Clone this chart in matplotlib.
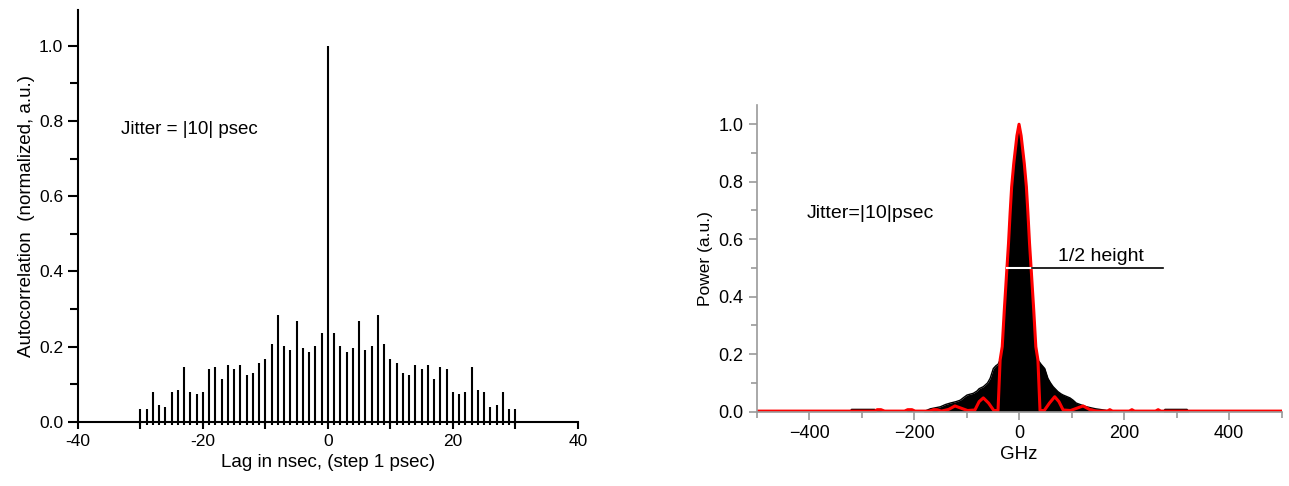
"""
plot.py - autocorrelacion del jitter (izq) y espectro de potencia (der)
"""

import numpy as np
import matplotlib.pyplot as plt
from matplotlib.ticker import MultipleLocator

plt.rcParams["font.family"] = ["Liberation Sans", "DejaVu Sans"]

# ----------------------------------------------------------------------
# Datos panel izquierdo: autocorrelacion por lag (-30 .. 30)
# ----------------------------------------------------------------------
lags = list(range(-30, 31))
autocorr = [0.035, 0.035, 0.079, 0.045, 0.040, 0.079, 0.085, 0.146, 0.079, 0.074,
            0.079, 0.140, 0.146, 0.114, 0.152, 0.140, 0.152, 0.124, 0.130, 0.157,
            0.168, 0.207, 0.285, 0.202, 0.190, 0.268, 0.196, 0.185, 0.202, 0.235,
            1.000,
            0.235, 0.202, 0.185, 0.196, 0.268, 0.190, 0.202, 0.285, 0.207, 0.168,
            0.157, 0.130, 0.124, 0.152, 0.140, 0.152, 0.114, 0.146, 0.140, 0.079,
            0.074, 0.079, 0.146, 0.085, 0.079, 0.040, 0.045, 0.079, 0.035, 0.035]

# ----------------------------------------------------------------------
# Datos panel derecho: espectro medido (negro) y ajuste (rojo)
# ----------------------------------------------------------------------
espectro_ghz = [-500, -322, -319, -275, -272, -182, -169, -150, -140, -131, -120,
                -112, -105, -99, -87, -80, -76, -68, -60, -55, -49, -44, -40, -36,
                -32, -28, -23, -20, -17, -14, -10, -4, 0, 4, 10, 14, 17, 20, 23,
                28, 32, 36, 42, 49, 55, 60, 65, 74, 80, 84, 97, 103, 109, 118, 127,
                136, 146, 165, 178, 275, 278, 320, 323, 500]
espectro_pot = [0.0, 0.0, 0.008, 0.008, 0.0, 0.0, 0.010, 0.017, 0.025, 0.030, 0.035,
                0.040, 0.050, 0.058, 0.064, 0.072, 0.080, 0.087, 0.100, 0.116, 0.150,
                0.160, 0.165, 0.180, 0.226, 0.354, 0.500, 0.586, 0.690, 0.783, 0.864,
                0.960, 1.000, 0.960, 0.864, 0.783, 0.690, 0.586, 0.500, 0.354, 0.226,
                0.180, 0.165, 0.150, 0.116, 0.100, 0.087, 0.070, 0.062, 0.058, 0.048,
                0.040, 0.030, 0.024, 0.018, 0.014, 0.010, 0.005, 0.0, 0.0, 0.008,
                0.008, 0.0, 0.0]

ajuste_ghz = [-500, -275, -270, -263, -256, -218, -212, -204, -198, -170, -163, -156,
              -148, -134, -122, -110, -98, -84, -76, -68, -58, -48, -40, -36, -32,
              -28, -23, -20, -17, -14, -10, -4, 0, 4, 10, 14, 17, 20, 23, 28, 32,
              36, 40, 48, 58, 68, 76, 84, 98, 110, 122, 134, 148, 168, 173, 178,
              210, 215, 220, 260, 265, 270, 500]
ajuste_pot = [0.002, 0.002, 0.007, 0.007, 0.002, 0.002, 0.007, 0.007, 0.002, 0.002,
              0.007, 0.007, 0.002, 0.008, 0.020, 0.012, 0.004, 0.006, 0.035, 0.048,
              0.030, 0.004, 0.004, 0.180, 0.226, 0.354, 0.500, 0.586, 0.690, 0.783,
              0.864, 0.960, 1.000, 0.960, 0.864, 0.783, 0.690, 0.586, 0.500, 0.354,
              0.226, 0.180, 0.004, 0.004, 0.030, 0.052, 0.035, 0.006, 0.004, 0.012,
              0.020, 0.008, 0.002, 0.002, 0.007, 0.002, 0.002, 0.007, 0.002, 0.002,
              0.007, 0.002, 0.002]

fig = plt.figure(figsize=(12.89, 4.86), dpi=100)

# ----------------------------------------------------------------------
# Panel izquierdo
# ----------------------------------------------------------------------
ax1 = fig.add_axes([0.0603, 0.1323, 0.3881, 0.8471])
ax1.vlines(lags, -0.008, autocorr, color="black", lw=1.5, clip_on=False)
ax1.set_xlim(-40, 40)
ax1.set_ylim(0, 1.095)
ax1.set_xticks(range(-40, 41, 10))
ax1.set_xticklabels([str(v) if v % 20 == 0 else "" for v in range(-40, 41, 10)])
ax1.yaxis.set_major_locator(MultipleLocator(0.2))
ax1.yaxis.set_minor_locator(MultipleLocator(0.1))
ax1.yaxis.set_major_formatter(plt.FormatStrFormatter("%.1f"))
for lado in ("top", "right"):
    ax1.spines[lado].set_visible(False)
for lado in ("left", "bottom"):
    ax1.spines[lado].set_linewidth(1.5)
ax1.tick_params(axis="both", which="both", width=1.5, labelsize=12.5, direction="out")
ax1.tick_params(axis="y", which="major", length=7)
ax1.tick_params(axis="y", which="minor", length=6)
ax1.tick_params(axis="x", which="major", length=5)
ax1.set_xlabel("Lag in nsec, (step 1 psec)", fontsize=13.5, labelpad=4)
ax1.set_ylabel("Autocorrelation  (normalized, a.u.)", fontsize=13.5, labelpad=3)
ax1.text(-33, 0.776, "Jitter = |10| psec", fontsize=13.5, va="center", ha="left")

# ----------------------------------------------------------------------
# Panel derecho
# ----------------------------------------------------------------------
gris = "#9a9a9a"
ax2 = fig.add_axes([0.5869, 0.1529, 0.4073, 0.6311])
ax2.fill_between(espectro_ghz, 0, espectro_pot, color="black", lw=0)
ax2.plot(espectro_ghz, espectro_pot, color="black", lw=1.0)
ax2.plot(ajuste_ghz, ajuste_pot, color="#ff0000", lw=2.2)
# marca de media altura
ax2.plot([-23, 24], [0.5, 0.5], color="white", lw=1.5)
ax2.plot([24, 274], [0.5, 0.5], color="black", lw=1.2)
ax2.text(74, 0.512, "1/2 height", fontsize=14, ha="left", va="bottom")
ax2.text(-404, 0.69, "Jitter=|10|psec", fontsize=14, ha="left", va="center")

ax2.set_xlim(-500, 500)
ax2.set_ylim(0, 1.067)
ax2.xaxis.set_major_locator(MultipleLocator(200))
ax2.xaxis.set_minor_locator(MultipleLocator(100))
ax2.yaxis.set_major_locator(MultipleLocator(0.2))
ax2.yaxis.set_minor_locator(MultipleLocator(0.1))
ax2.yaxis.set_major_formatter(plt.FormatStrFormatter("%.1f"))
for lado in ("top", "right"):
    ax2.spines[lado].set_visible(False)
for lado in ("left", "bottom"):
    ax2.spines[lado].set_color(gris)
    ax2.spines[lado].set_linewidth(1.2)
ax2.tick_params(axis="both", which="both", color=gris, width=1.2, labelsize=13)
ax2.tick_params(axis="both", which="major", length=6)
ax2.tick_params(axis="both", which="minor", length=4)
ax2.set_xlabel("GHz", fontsize=13.5, labelpad=3)
ax2.set_ylabel("Power (a.u.)", fontsize=12.5, labelpad=4)

fig.savefig("out.png", dpi=100)
